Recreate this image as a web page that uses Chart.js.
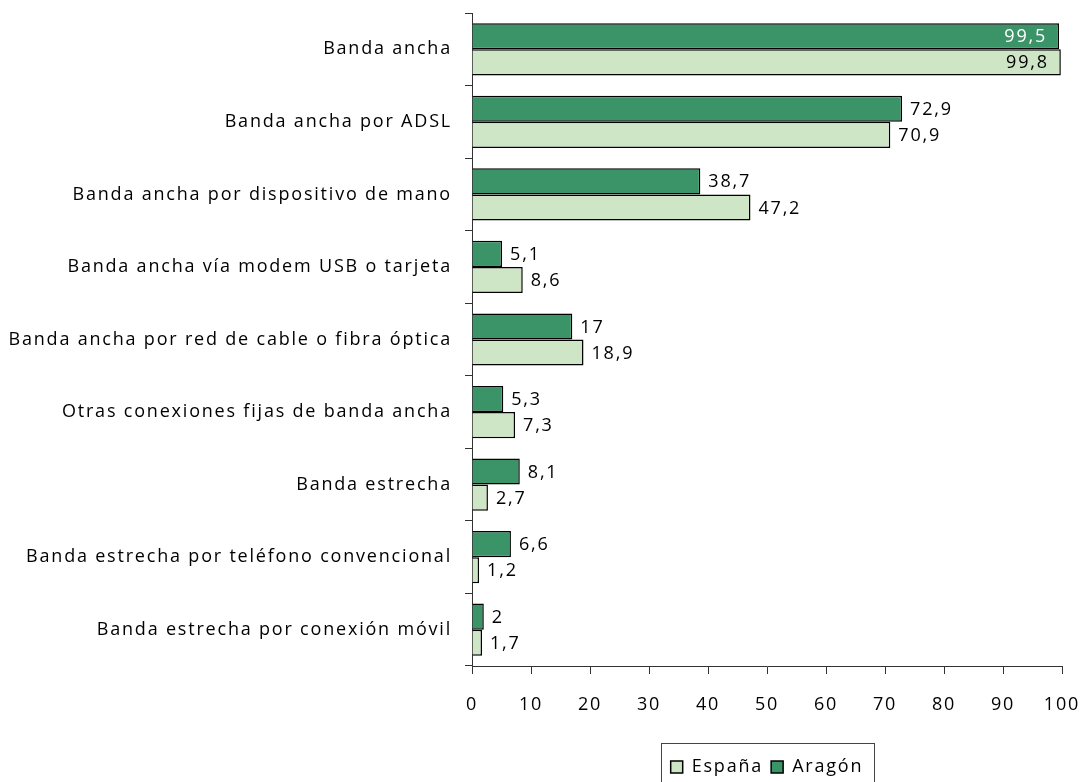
<!DOCTYPE html>
<html>
<head>
<meta charset="utf-8">
<script src="https://cdn.jsdelivr.net/npm/chart.js@4/dist/chart.umd.min.js"></script>
<style>
  html, body { margin: 0; padding: 0; background: #fff; }
</style>
</head>
<body>
<canvas id="accesoChart" width="1089" height="782"></canvas>
<script>
const categories = [
  "Banda ancha",
  "Banda ancha por ADSL",
  "Banda ancha por dispositivo de mano",
  "Banda ancha vía modem USB o tarjeta",
  "Banda ancha por red de cable o fibra óptica",
  "Otras conexiones fijas de banda ancha",
  "Banda estrecha",
  "Banda estrecha por teléfono convencional",
  "Banda estrecha por conexión móvil",
];
const aragonValues = [99.5, 72.9, 38.7, 5.1, 17, 5.3, 8.1, 6.6, 2];
const espanaValues = [99.8, 70.9, 47.2, 8.6, 18.9, 7.3, 2.7, 1.2, 1.7];
const xTicks = [0, 10, 20, 30, 40, 50, 60, 70, 80, 90, 100];

const FONT = { family: "'Open Sans', 'Noto Sans', sans-serif", size: 18 };
const AXIS_COLOR = "#333";

// Calibri-like wide spacing of the original
const spacingPlugin = {
  id: "spacing",
  beforeLayout(chart) { chart.ctx.letterSpacing = "1.8px"; },
  beforeDraw(chart) { chart.ctx.letterSpacing = "1.8px"; },
};

// value labels at the end of each bar
const valueLabels = {
  id: "valueLabels",
  afterDatasetsDraw(chart) {
    const ctx = chart.ctx;
    ctx.save();
    ctx.font = `${FONT.size}px ${FONT.family}`;
    ctx.textBaseline = "middle";
    chart.data.datasets.forEach((ds, di) => {
      const meta = chart.getDatasetMeta(di);
      meta.data.forEach((bar, i) => {
        const v = ds.data[i];
        const txt = String(v).replace(".", ",");
        if (v > 95) {
          ctx.textAlign = "right";
          ctx.fillStyle = di === 0 ? "#fff" : "#000";
          ctx.fillText(txt, bar.x - 12, bar.y + 1);
        } else {
          ctx.textAlign = "left";
          ctx.fillStyle = "#000";
          ctx.fillText(txt, bar.x + 8, bar.y + 1);
        }
      });
    });
    ctx.restore();
  },
};

// legend sits a bit lower, inside a frame
const legendFrame = {
  id: "legendFrame",
  afterLayout(chart) {
    chart.legend.top += 4;
    chart.legend.bottom += 4;
  },
  afterDraw(chart) {
    const boxes = chart.legend.legendHitBoxes;
    if (!boxes || !boxes.length) return;
    const left = Math.min(...boxes.map((b) => b.left)) - 10;
    const right = Math.max(...boxes.map((b) => b.left + b.width)) + 10;
    const ctx = chart.ctx;
    ctx.save();
    ctx.strokeStyle = "#444";
    ctx.lineWidth = 1;
    ctx.strokeRect(Math.round(left) + 0.5, 743.5, Math.round(right - left), 40);
    ctx.restore();
  },
};

const ctx = document.getElementById("accesoChart").getContext("2d");
const accesoChart = new Chart(ctx, {
  type: "bar",
  data: {
    labels: categories,
    datasets: [
      {
        label: "Aragón",
        data: aragonValues,
        backgroundColor: "#3A9468",
        borderColor: "#000",
        borderWidth: 1.5,
        categoryPercentage: 0.72,
        barPercentage: 1,
      },
      {
        label: "España",
        data: espanaValues,
        backgroundColor: "#CFE6C6",
        borderColor: "#000",
        borderWidth: 1.5,
        categoryPercentage: 0.72,
        barPercentage: 1,
      },
    ],
  },
  options: {
    indexAxis: "y",
    responsive: false,
    animation: false,
    layout: {
      padding: { top: 13, right: 27, bottom: 0, left: 0 },
    },
    scales: {
      x: {
        min: 0,
        max: 100,
        afterBuildTicks: (scale) => {
          scale.ticks = xTicks.map((v) => ({ value: v }));
        },
        afterFit: (scale) => {
          scale.height = 80;
          scale.paddingLeft = 0;
          scale.paddingRight = 0;
        },
        border: { color: AXIS_COLOR, width: 1 },
        grid: {
          drawOnChartArea: false,
          drawTicks: true,
          tickLength: 8,
          color: AXIS_COLOR,
        },
        ticks: {
          color: "#000",
          font: FONT,
          padding: 20,
          maxRotation: 0,
        },
      },
      y: {
        afterFit: (scale) => {
          scale.width = 472;
          scale.paddingTop = 0;
          scale.paddingBottom = 0;
        },
        border: { color: AXIS_COLOR, width: 1 },
        grid: {
          drawOnChartArea: false,
          drawTicks: true,
          tickLength: 7,
          offset: true,
          color: AXIS_COLOR,
        },
        ticks: {
          color: "#000",
          font: FONT,
          padding: 13,
        },
      },
    },
    plugins: {
      legend: {
        position: "bottom",
        fullSize: false,
        reverse: true,
        labels: {
          color: "#000",
          font: { ...FONT, lineHeight: 1 },
          boxWidth: 12,
          boxHeight: 12,
          padding: 8,
        },
      },
      tooltip: { enabled: false },
    },
  },
  plugins: [spacingPlugin, valueLabels, legendFrame],
});
</script>
</body>
</html>
